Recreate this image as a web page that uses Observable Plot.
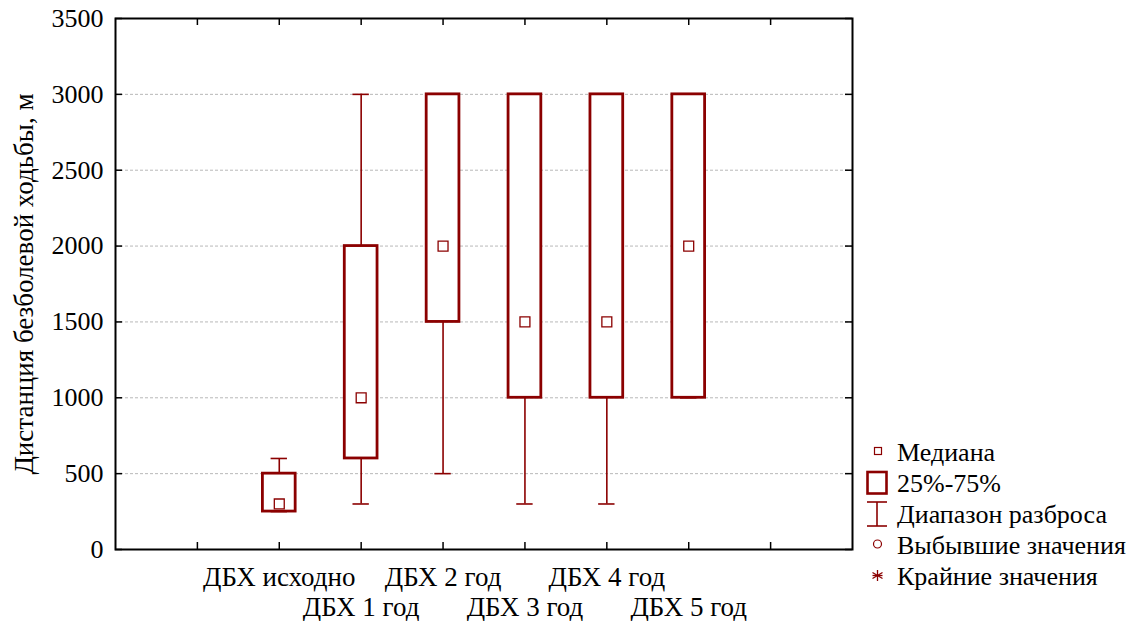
<!DOCTYPE html>
<html><head><meta charset="utf-8">
<script src="https://cdn.jsdelivr.net/npm/d3@7"></script>
<script src="https://cdn.jsdelivr.net/npm/@observablehq/plot@0.6"></script>
<style>
body{margin:0;background:#fff;}
#wrap{position:relative;width:1129px;height:621px;font-family:'Liberation Serif';}
#wrap svg text{font-family:'Liberation Serif';}
#legend{position:absolute;left:863px;top:437px;font-family:'Liberation Serif';font-size:26px;line-height:31px;color:#000;}
#legend .row{display:flex;height:31px;align-items:flex-start;white-space:nowrap;}
#legend svg{width:34px;height:31px;flex:none;}
</style></head><body><div id="wrap"></div>
<script>
const categories = ["ДБХ исходно", "ДБХ 1 год", "ДБХ 2 год", "ДБХ 3 год", "ДБХ 4 год", "ДБХ 5 год"];
const minValues    = [250, 300,  500,  300,  300,  1000];
const q1Values     = [250, 600,  1500, 1000, 1000, 1000];
const medianValues = [300, 1000, 2000, 1500, 1500, 2000];
const q3Values     = [500, 2000, 3000, 3000, 3000, 3000];
const maxValues    = [600, 3000, 3000, 3000, 3000, 3000];
const yTicks = [0, 500, 1000, 1500, 2000, 2500, 3000, 3500];
const gridValues = [500, 1000, 1500, 2000, 2500, 3000];
const xTickPositions = [1, 2, 3, 4, 5, 6, 7, 8];
const yLabel = "Дистанция безболевой ходьбы, м";
const legendLabels = ["Медиана", "25%-75%", "Диапазон разброса", "Выбывшие значения", "Крайние значения"];

const color = "#8b0000";
const rows = categories.map((c, i) => ({
  cat: c, pos: i + 2,
  min: minValues[i], q1: q1Values[i], med: medianValues[i], q3: q3Values[i], max: maxValues[i]
}));

const W = 1129, H = 621;
const mL = 115, mR = 277, mT = 18, mB = 72;
const pw = W - mL - mR, ph = H - mT - mB;

const chart = Plot.plot({
  width: W, height: H,
  marginLeft: mL, marginRight: mR, marginTop: mT, marginBottom: mB,
  style: {fontFamily: "'Liberation Serif'", fontSize: "26px", color: "#000", background: "#fff"},
  x: {type: "linear", domain: [0, 9]},
  y: {domain: [0, 3500]},
  marks: [
    Plot.ruleY(gridValues, {y: d => d, stroke: "#b8b8b8", strokeWidth: 1, strokeDasharray: "3,2"}),
    // whiskers
    Plot.ruleX(rows, {x: "pos", y1: "min", y2: "q1", stroke: color, strokeWidth: 1.6}),
    Plot.ruleX(rows, {x: "pos", y1: "q3", y2: "max", stroke: color, strokeWidth: 1.6}),
    Plot.ruleY(rows, {y: "min", x1: d => d.pos - 0.1, x2: d => d.pos + 0.1, stroke: color, strokeWidth: 1.6}),
    Plot.ruleY(rows, {y: "max", x1: d => d.pos - 0.1, x2: d => d.pos + 0.1, stroke: color, strokeWidth: 1.6}),
    // boxes
    Plot.rect(rows, {x1: d => d.pos - 0.2, x2: d => d.pos + 0.2, y1: "q1", y2: "q3", fill: "#fff", stroke: color, strokeWidth: 2.8}),
    // medians
    Plot.dot(rows, {x: "pos", y: "med", symbol: "square", r: 5.6, fill: "#fff", stroke: color, strokeWidth: 1.3}),
    // inward ticks on all four sides
    Plot.tickX(xTickPositions, {x: d => d, insetTop: ph - 7, stroke: "#000", strokeWidth: 1.5}),
    Plot.tickX(xTickPositions, {x: d => d, insetBottom: ph - 7, stroke: "#000", strokeWidth: 1.5}),
    Plot.tickY(yTicks, {y: d => d, insetRight: pw - 7, stroke: "#000", strokeWidth: 1.5}),
    Plot.tickY(yTicks, {y: d => d, insetLeft: pw - 7, stroke: "#000", strokeWidth: 1.5}),
    Plot.frame({stroke: "#000", strokeWidth: 2}),
    Plot.axisY({ticks: yTicks, tickSize: 0, tickPadding: 12, tickFormat: d => String(d), label: null, fontSize: 26}),
    Plot.text([yLabel], {text: d => d, frameAnchor: "left", textAnchor: "middle", lineAnchor: "middle", rotate: -90, dx: -91, fontSize: 27, fill: "#000"}),
    Plot.axisX({ticks: [2, 4, 6], tickSize: 0, tickPadding: 17, tickFormat: d => categories[d - 2], label: null, fontSize: 27}),
    Plot.axisX({ticks: [3, 5, 7], tickSize: 0, tickPadding: 47, tickFormat: d => categories[d - 2], label: null, fontSize: 27})
  ]
});

const wrap = document.getElementById("wrap");
wrap.appendChild(chart);

const icons = [
  `<rect x="11.5" y="10.5" width="7" height="7" fill="#fff" stroke="${color}" stroke-width="1.2"/>`,
  `<rect x="4.5" y="4" width="19" height="21.5" fill="#fff" stroke="${color}" stroke-width="2.6"/>`,
  `<line x1="14" y1="3" x2="14" y2="27" stroke="${color}" stroke-width="1.6"/><line x1="4" y1="3" x2="24" y2="3" stroke="${color}" stroke-width="1.6"/><line x1="4" y1="27" x2="24" y2="27" stroke="${color}" stroke-width="1.6"/>`,
  `<circle cx="14.5" cy="14" r="4" fill="#fff" stroke="${color}" stroke-width="1.2"/>`,
  `<g stroke="${color}" stroke-width="1.3"><line x1="14.5" y1="9" x2="14.5" y2="20"/><line x1="9.5" y1="11.5" x2="19.5" y2="17.5"/><line x1="9.5" y1="17.5" x2="19.5" y2="11.5"/><line x1="9.5" y1="14.5" x2="19.5" y2="14.5"/></g>`
];
const legend = document.createElement("div");
legend.id = "legend";
legend.innerHTML = legendLabels.map((t, i) =>
  `<div class="row"><svg viewBox="0 0 34 31">${icons[i]}</svg><span>${t}</span></div>`).join("");
wrap.appendChild(legend);
</script>
</body></html>
